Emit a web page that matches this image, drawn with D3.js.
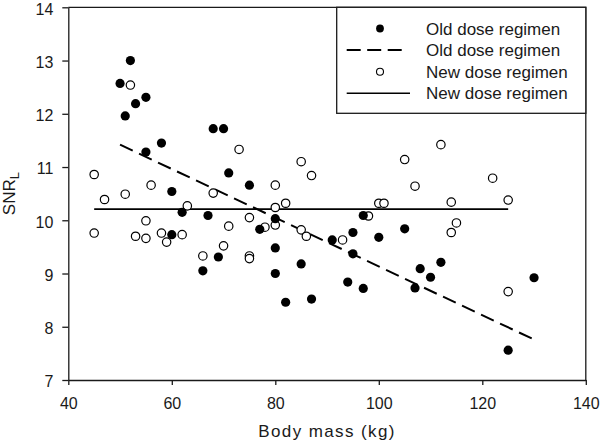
<!DOCTYPE html>
<html><head><meta charset="utf-8">
<script src="https://cdn.jsdelivr.net/npm/d3@7"></script>
<style>
html,body{margin:0;padding:0;background:#fff;}
svg{display:block;font-family:"Liberation Sans",Arial,sans-serif;}
</style></head>
<body><svg id="c" width="600" height="443"></svg>
<script>
// Old dose regimen (filled circles): body mass (kg), SNR_L
const oldMass = [52,50,51,53,55,55,58,68,70,71,75,60,62,67,60,66,69,77,80,97,80,91,95,100,105,95,85,80,94,97,82,87,108,110,112,107,130,125];
const oldSNR  = [13.0,12.57,11.96,12.19,12.31,11.28,11.45,11.72,11.72,10.89,10.66,10.54,10.15,10.09,9.73,9.05,9.31,9.83,10.03,10.09,9.48,9.63,9.77,9.68,9.84,9.37,9.18,9.0,8.84,8.72,8.46,8.52,9.09,8.93,9.21,8.73,8.92,7.56];
// New dose regimen (open circles)
const newMass = [52,73,45,51,56,68,47,63,55,45,53,55,58,59,62,66,70,75,71,75,75,85,87,80,82,80,78,80,85,86,93,98,100,101,105,107,112,122,114,125,115,114,125];
const newSNR  = [12.54,11.33,10.86,10.49,10.66,10.51,10.39,10.27,9.99,9.76,9.70,9.66,9.76,9.59,9.73,9.33,9.52,10.05,9.89,9.33,9.28,11.10,10.84,10.66,10.32,10.24,9.87,9.91,9.82,9.70,9.63,10.08,10.32,10.32,11.14,10.64,11.42,10.79,10.34,10.38,9.95,9.77,8.66];
// Fitted lines (end points)
const oldFitMass = [50,130], oldFitSNR = [11.42,7.76];
const newFitMass = [45,125], newFitSNR = [10.21,10.21];
// Axes
const xTicks = [40,60,80,100,120,140];
const yTicks = [7,8,9,10,11,12,13,14];
const legendLabels = ["Old dose regimen","Old dose regimen","New dose regimen","New dose regimen"];

const svg = d3.select("#c");
const L = 68.3, R = 585.8, T = 7.3, B = 380;
const x = d3.scaleLinear().domain([40,140]).range([L,R]);
const y = d3.scaleLinear().domain([7,14]).range([B,T]);
const ink = "#1a1a1a";

// frame (top and right)
svg.append("path").attr("d",`M${L},${T}H${R}V${B}`).attr("fill","none").attr("stroke",ink).attr("stroke-width",1.3);

const xa = svg.append("g").attr("transform",`translate(0,${B})`)
  .call(d3.axisBottom(x).tickValues(xTicks).tickSize(5).tickPadding(13).tickSizeOuter(0).tickFormat(d3.format("d")));
const ya = svg.append("g").attr("transform",`translate(${L},0)`)
  .call(d3.axisLeft(y).tickValues(yTicks).tickSize(6).tickPadding(9).tickSizeOuter(0).tickFormat(d3.format("d")));
[xa,ya].forEach(a=>{
  a.selectAll("path,line").attr("stroke",ink).attr("stroke-width",1.3);
  a.selectAll("text").attr("font-size",16).attr("fill",ink).attr("font-family","Liberation Sans, Arial, sans-serif");
});
ya.selectAll("text").attr("dy","0.42em");

const line = d3.line().x(d=>x(d[0])).y(d=>y(d[1]));
svg.append("path").datum(oldFitMass.map((m,i)=>[m,oldFitSNR[i]])).attr("d",line)
  .attr("fill","none").attr("stroke","#000").attr("stroke-width",2).attr("stroke-dasharray","14,7");
svg.append("path").datum(newFitMass.map((m,i)=>[m,newFitSNR[i]])).attr("d",line)
  .attr("fill","none").attr("stroke","#000").attr("stroke-width",1.6);

svg.append("g").selectAll("circle").data(newMass.map((m,i)=>[m,newSNR[i]])).join("circle")
  .attr("cx",d=>x(d[0])).attr("cy",d=>y(d[1])).attr("r",4.2)
  .attr("fill","#fff").attr("stroke","#000").attr("stroke-width",1.2);
svg.append("g").selectAll("circle").data(oldMass.map((m,i)=>[m,oldSNR[i]])).join("circle")
  .attr("cx",d=>x(d[0])).attr("cy",d=>y(d[1])).attr("r",4.6).attr("fill","#000");

// axis titles
svg.append("text").attr("x",(L+R)/2).attr("y",436.5).attr("text-anchor","middle")
  .attr("font-size",17).attr("letter-spacing","1.4px").attr("fill",ink).text("Body mass (kg)");
const yt = svg.append("text").attr("transform",`translate(15,${(T+B)/2}) rotate(-90)`)
  .attr("text-anchor","middle").attr("font-size",17).attr("fill",ink);
yt.append("tspan").text("SNR");
yt.append("tspan").attr("font-size",13).attr("dy",4).text("L");

// legend
const lg = svg.append("g");
lg.append("rect").attr("x",336.7).attr("y",T).attr("width",R-336.7).attr("height",113.3-T)
  .attr("fill","#fff").attr("stroke",ink).attr("stroke-width",1.3);
const rows = [28.5,50,71.7,93.3];
lg.append("circle").attr("cx",380).attr("cy",rows[0]).attr("r",3.9).attr("fill","#000");
lg.append("line").attr("x1",346.7).attr("x2",402).attr("y1",rows[1]).attr("y2",rows[1])
  .attr("stroke","#000").attr("stroke-width",2).attr("stroke-dasharray","14,6.5");
lg.append("circle").attr("cx",380).attr("cy",rows[2]).attr("r",3.5).attr("fill","#fff").attr("stroke","#000").attr("stroke-width",1.1);
lg.append("line").attr("x1",346.7).attr("x2",410).attr("y1",rows[3]).attr("y2",rows[3])
  .attr("stroke","#000").attr("stroke-width",1.6);
lg.selectAll("text.lab").data(legendLabels).join("text").attr("class","lab")
  .attr("x",426).attr("y",(d,i)=>rows[i]).attr("dy","0.36em").attr("font-size",17).attr("fill",ink).text(d=>d);
</script></body></html>
